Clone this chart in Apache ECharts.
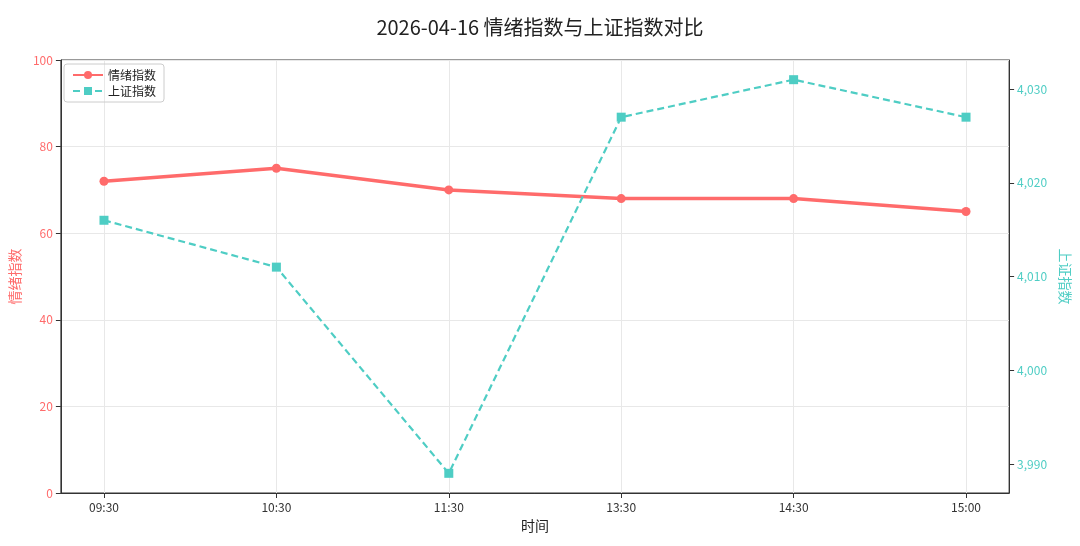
<!DOCTYPE html>
<html><head><meta charset="utf-8">
<script src="https://cdn.jsdelivr.net/npm/echarts@6/dist/echarts.min.js"></script>
<style>body{margin:0}#c{width:1080px;height:546px}</style></head>
<body><div id="c"></div>
<script>
// data
const times = ['09:30', '10:30', '11:30', '13:30', '14:30', '15:00'];
const mood = [72, 75, 70, 68, 68, 65];
const sh = [4016, 4011, 3989, 4027, 4031, 4027];
const shTicks = [3990, 4000, 4010, 4020, 4030];
const red = '#FF6B6B', teal = '#4ECDC4';
const font = '"Noto Sans CJK SC", "Noto Sans", sans-serif';
const idx = times.map((t, i) => i);

const chart = echarts.init(document.getElementById('c'));
chart.setOption({
  textStyle: { fontFamily: font },
  title: { text: '2026-04-16 情绪指数与上证指数对比', left: 'center', top: 12,
    textStyle: { fontSize: 20, fontWeight: 'normal', color: '#222', fontFamily: font } },
  legend: { left: 64, top: 64, orient: 'vertical', itemGap: 4, itemWidth: 30, itemHeight: 10,
    borderColor: '#ccc', borderWidth: 1, borderRadius: 3, padding: [5, 8],
    textStyle: { fontSize: 12, color: '#222' } },
  grid: { left: 58, right: 67, top: 60, bottom: 53, show: true, borderColor: '#333', borderWidth: 1 },
  xAxis: { type: 'value', min: -0.25, max: 5.25,
    name: '时间', nameLocation: 'middle', nameGap: 26, nameTextStyle: { fontSize: 14, color: '#222' },
    axisLine: { onZero: false, lineStyle: { color: '#333' } },
    axisTick: { show: true, customValues: idx, lineStyle: { color: '#333' } },
    axisLabel: { color: '#333', fontSize: 12, customValues: idx, formatter: v => times[Math.round(v)] },
    splitLine: { show: true, lineStyle: { color: '#e8e8e8' } } },
  yAxis: [
    { type: 'value', min: 0, max: 100, interval: 20, name: '情绪指数', nameLocation: 'middle', nameGap: 34,
      nameTextStyle: { color: red, fontSize: 14 },
      axisLine: { show: true, onZero: false, lineStyle: { color: '#333' } }, axisTick: { show: true },
      axisLabel: { color: red, fontSize: 12 }, splitLine: { lineStyle: { color: '#e8e8e8' } } },
    { type: 'value', min: 3986.9, max: 4033.1, name: '上证指数', nameLocation: 'middle', nameGap: 45,
      nameRotate: -90, nameTextStyle: { color: teal, fontSize: 14 },
      axisLine: { show: true, onZero: false, lineStyle: { color: '#333' } },
      axisTick: { show: true, customValues: shTicks },
      axisLabel: { color: teal, fontSize: 12, customValues: shTicks },
      splitLine: { show: false } }
  ],
  series: [
    { name: '情绪指数', type: 'line', yAxisIndex: 0, data: mood.map((v, i) => [i, v]),
      symbol: 'circle', symbolSize: 9, lineStyle: { width: 3.5, color: red },
      itemStyle: { color: red } },
    { name: '上证指数', type: 'line', yAxisIndex: 1, data: sh.map((v, i) => [i, v]),
      symbol: 'rect', symbolSize: 9, lineStyle: { width: 2.2, type: [7, 4], color: teal },
      itemStyle: { color: teal } }
  ]
});
</script></body></html>
